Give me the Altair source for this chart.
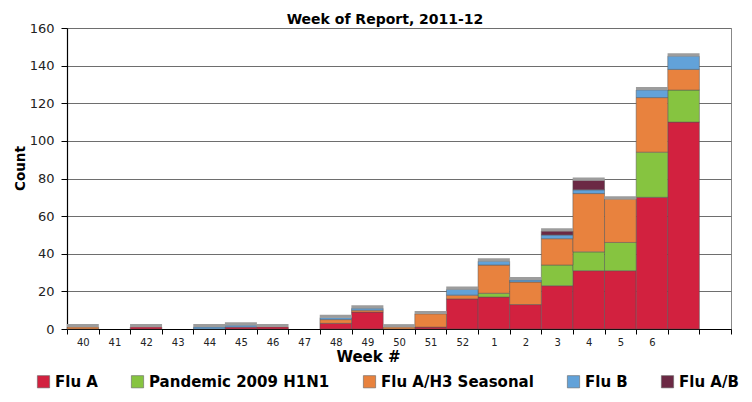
import altair as alt
import pandas as pd

weeks = ["40", "41", "42", "43", "44", "45", "46", "47", "48", "49", "50", "51", "52",
         "1", "2", "3", "4", "5", "6", " ", "  "]
series = ["Flu A", "Pandemic 2009 H1N1", "Flu A/H3 Seasonal", "Flu B", "Flu A/B"]
colors = ["#D2213F", "#86C440", "#E8823E", "#62A2D9", "#6B2944"]

flu_a    = [0, 0, 1, 0, 0, 1, 1, 0, 3, 9, 0, 1, 16, 17, 13, 23, 31, 31, 70, 110, 0]
pandemic = [0, 0, 0, 0, 0, 0, 0, 0, 0, 0, 0, 0, 0, 2, 0, 11, 10, 15, 24, 17, 0]
h3       = [1, 0, 0, 0, 0, 0, 0, 0, 2, 1, 1, 7, 2, 15, 12, 14, 31, 23, 29, 11, 0]
flu_b    = [0, 0, 0, 0, 1, 1, 0, 0, 1, 1, 0, 0, 3, 2, 1, 2, 2, 0, 4, 7, 0]
flu_ab   = [0, 0, 0, 0, 0, 0, 0, 0, 0, 0, 0, 0, 0, 0, 0, 2, 5, 0, 0, 0, 0]
y_ticks = [0, 20, 40, 60, 80, 100, 120, 140, 160]

rows = []
for k, (name, vals) in enumerate(zip(series, [flu_a, pandemic, h3, flu_b, flu_ab])):
    for w, v in zip(weeks, vals):
        if v > 0:
            rows.append({"week": w, "type": name, "count": v, "order": k})
df = pd.DataFrame(rows)

FONT = "DejaVu Sans"

x_axis = alt.Axis(title="Week #", labelAngle=0, labelFontSize=10, labelFont=FONT,
                  labelColor="#222", labelPadding=3, tickBand="extent",
                  tickSize=5, tickColor="#000", domainColor="#000", domainWidth=1.2,
                  titleFont=FONT, titleFontSize=15, titleFontWeight="bold",
                  titleX=301, titleY=27, titleBaseline="middle", titleColor="#000")
x_scale = alt.Scale(domain=weeks, paddingInner=0, paddingOuter=0)

y_axis = alt.Axis(title="Count", values=y_ticks, labelOverlap=False,
                  labelFontSize=13, labelFont=FONT, labelColor="#222", labelPadding=7,
                  tickSize=6, tickColor="#000", domainColor="#000", domainWidth=1.2,
                  grid=True, gridColor="#6e6e6e", gridWidth=1,
                  titleFont=FONT, titleFontSize=13.5, titleFontWeight="bold",
                  titleColor="#000", titleX=-47, titleY=140, titleAngle=-90,
                  titleAlign="center", titleBaseline="middle")
y_scale = alt.Scale(domain=[0, 160], nice=False)

bars = alt.Chart(df).mark_bar(stroke="#555", strokeWidth=0.5).encode(
    x=alt.X("week:N", sort=weeks, scale=x_scale, axis=x_axis),
    y=alt.Y("count:Q", stack="zero", scale=y_scale, axis=y_axis),
    color=alt.Color("type:N", sort=series,
                    scale=alt.Scale(domain=series, range=colors),
                    legend=alt.Legend(orient="none", legendX=-31, legendY=346,
                                      direction="horizontal", columns=5, title=None,
                                      symbolType="square", symbolSize=150,
                                      symbolStrokeColor="#666", symbolStrokeWidth=0.6,
                                      labelFont=FONT, labelFontSize=15, labelFontWeight="bold",
                                      labelColor="#000", labelLimit=400, labelOffset=4,
                                      columnPadding=32)),
    order=alt.Order("order:Q", sort="ascending"),
)

caps = alt.Chart(df).mark_tick(color="#9c9c9c", thickness=3, yOffset=-1.5).encode(
    x=alt.X("week:N", sort=weeks, scale=x_scale, axis=x_axis),
    y=alt.Y("sum(count):Q", scale=y_scale, axis=y_axis),
    size=alt.value(32),
)

chart = alt.layer(bars, caps).properties(
    width=664, height=301,
    title=alt.TitleParams("Week of Report, 2011-12", font=FONT, fontSize=14,
                          fontWeight="bold", color="#000", offset=2, dx=-14, dy=7,
                          anchor="middle"),
    padding={"left": 59, "top": 20, "right": 13, "bottom": 64},
    autosize=alt.AutoSizeParams(type="none"),
).configure_view(stroke="#888", strokeWidth=1)

chart.save("out.html", embed_options={"renderer": "svg", "actions": False})
